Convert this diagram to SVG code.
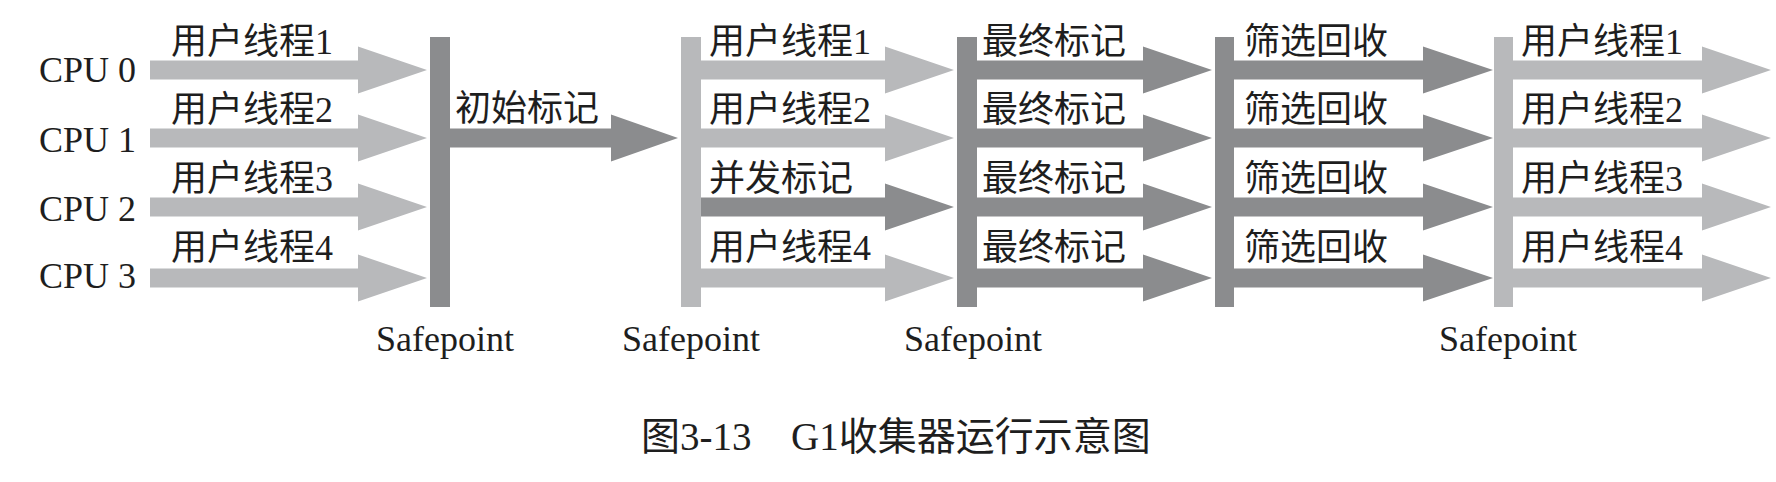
<svg xmlns="http://www.w3.org/2000/svg" width="1776" height="482" viewBox="0 0 1776 482">
<style>
  .bg{fill:#ffffff}
  .lt{fill:#b8b9bb}
  .dk{fill:#8b8c8e}
  text{font-family:"Liberation Serif","Noto Sans CJK SC",serif;fill:#1e1e1e;font-size:36px;font-weight:normal}
  .cap{font-size:39px}
  .mid{text-anchor:middle}
</style>
<rect class="bg" x="0" y="0" width="1776" height="482"/>

<g id="connectors">
  <!-- CPU -> Safepoint 1 -->
  <polygon class="lt" points="150,60.5 358,60.5 358,46.5 427,70 358,93.5 358,79.5 150,79.5"/>
  <polygon class="lt" points="150,128.5 358,128.5 358,114.5 427,138 358,161.5 358,147.5 150,147.5"/>
  <polygon class="lt" points="150,197.5 358,197.5 358,183.5 427,207 358,230.5 358,216.5 150,216.5"/>
  <polygon class="lt" points="150,268.5 358,268.5 358,254.5 427,278 358,301.5 358,287.5 150,287.5"/>
  <!-- initial mark -->
  <polygon class="dk" points="450,128.5 611,128.5 611,114.5 678,138 611,161.5 611,147.5 450,147.5"/>
  <!-- Safepoint 2 -> Safepoint 3 -->
  <polygon class="lt" points="701,60.5 885,60.5 885,46.5 954,70 885,93.5 885,79.5 701,79.5"/>
  <polygon class="lt" points="701,128.5 885,128.5 885,114.5 954,138 885,161.5 885,147.5 701,147.5"/>
  <polygon class="dk" points="701,197.5 885,197.5 885,183.5 954,207 885,230.5 885,216.5 701,216.5"/>
  <polygon class="lt" points="701,268.5 885,268.5 885,254.5 954,278 885,301.5 885,287.5 701,287.5"/>
  <!-- final mark -->
  <polygon class="dk" points="977,60.5 1143,60.5 1143,46.5 1212,70 1143,93.5 1143,79.5 977,79.5"/>
  <polygon class="dk" points="977,128.5 1143,128.5 1143,114.5 1212,138 1143,161.5 1143,147.5 977,147.5"/>
  <polygon class="dk" points="977,197.5 1143,197.5 1143,183.5 1212,207 1143,230.5 1143,216.5 977,216.5"/>
  <polygon class="dk" points="977,268.5 1143,268.5 1143,254.5 1212,278 1143,301.5 1143,287.5 977,287.5"/>
  <!-- live data counting and evacuation -->
  <polygon class="dk" points="1234,60.5 1423,60.5 1423,46.5 1493,70 1423,93.5 1423,79.5 1234,79.5"/>
  <polygon class="dk" points="1234,128.5 1423,128.5 1423,114.5 1493,138 1423,161.5 1423,147.5 1234,147.5"/>
  <polygon class="dk" points="1234,197.5 1423,197.5 1423,183.5 1493,207 1423,230.5 1423,216.5 1234,216.5"/>
  <polygon class="dk" points="1234,268.5 1423,268.5 1423,254.5 1493,278 1423,301.5 1423,287.5 1234,287.5"/>
  <!-- user threads after -->
  <polygon class="lt" points="1513,60.5 1702,60.5 1702,46.5 1771,70 1702,93.5 1702,79.5 1513,79.5"/>
  <polygon class="lt" points="1513,128.5 1702,128.5 1702,114.5 1771,138 1702,161.5 1702,147.5 1513,147.5"/>
  <polygon class="lt" points="1513,197.5 1702,197.5 1702,183.5 1771,207 1702,230.5 1702,216.5 1513,216.5"/>
  <polygon class="lt" points="1513,268.5 1702,268.5 1702,254.5 1771,278 1702,301.5 1702,287.5 1513,287.5"/>
</g>

<g id="cpu-labels">
  <g id="cpu0"><text x="39" y="82">CPU 0</text></g>
  <g id="cpu1"><text x="39" y="152">CPU 1</text></g>
  <g id="cpu2"><text x="39" y="221">CPU 2</text></g>
  <g id="cpu3"><text x="39" y="288">CPU 3</text></g>
</g>

<g id="safepoint1">
  <rect class="dk" x="430" y="37" width="20" height="270"/>
  <text class="mid" x="445" y="351">Safepoint</text>
</g>
<g id="safepoint2">
  <rect class="lt" x="681" y="37" width="20" height="270"/>
  <text class="mid" x="691" y="351">Safepoint</text>
</g>
<g id="safepoint3">
  <rect class="dk" x="957" y="37" width="20" height="270"/>
  <text class="mid" x="973" y="351">Safepoint</text>
</g>
<g id="safepoint4">
  <rect class="dk" x="1215" y="37" width="19" height="270"/>
</g>
<g id="safepoint5">
  <rect class="lt" x="1494" y="37" width="19" height="270"/>
  <text class="mid" x="1508" y="351">Safepoint</text>
</g>

<g id="phase-user-1">
  <text x="171" y="54">用户线程1</text>
  <text x="171" y="122">用户线程2</text>
  <text x="171" y="191">用户线程3</text>
  <text x="171" y="260">用户线程4</text>
</g>
<g id="phase-initial-mark">
  <text x="455" y="121">初始标记</text>
</g>
<g id="phase-concurrent">
  <text x="709" y="54">用户线程1</text>
  <text x="709" y="122">用户线程2</text>
  <text x="709" y="191">并发标记</text>
  <text x="709" y="260">用户线程4</text>
</g>
<g id="phase-final-mark">
  <text x="982" y="54">最终标记</text>
  <text x="982" y="122">最终标记</text>
  <text x="982" y="191">最终标记</text>
  <text x="982" y="260">最终标记</text>
</g>
<g id="phase-evacuation">
  <text x="1244" y="54">筛选回收</text>
  <text x="1244" y="122">筛选回收</text>
  <text x="1244" y="191">筛选回收</text>
  <text x="1244" y="260">筛选回收</text>
</g>
<g id="phase-user-2">
  <text x="1521" y="54">用户线程1</text>
  <text x="1521" y="122">用户线程2</text>
  <text x="1521" y="191">用户线程3</text>
  <text x="1521" y="260">用户线程4</text>
</g>

<g id="caption">
  <text class="cap" y="450"><tspan x="641">图3-13</tspan><tspan x="791">G1收集器运行示意图</tspan></text>
</g>
</svg>
